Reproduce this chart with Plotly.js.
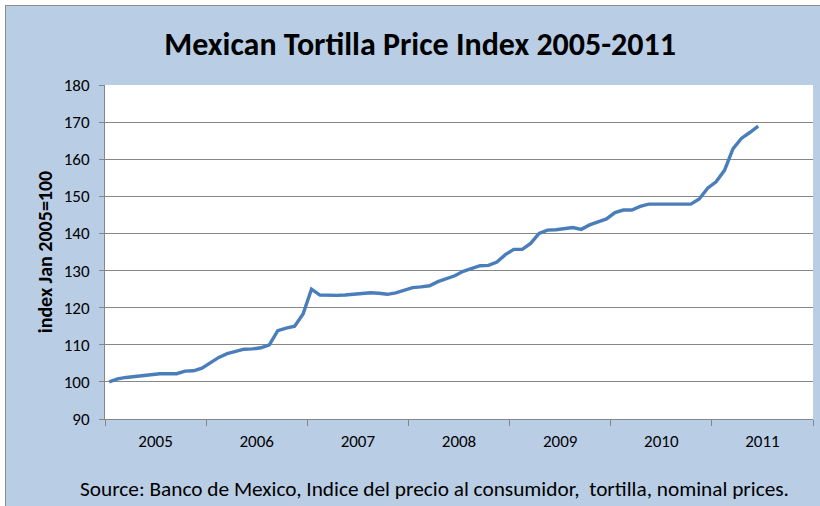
<!DOCTYPE html>
<html>
<head>
<meta charset="utf-8">
<script src="https://cdn.plot.ly/plotly-3.0.1.min.js"></script>
<style>
  html, body { margin: 0; padding: 0; background: #ffffff; overflow: hidden; width: 820px; height: 506px; }
  #chart { position: absolute; left: 5px; top: 5px; width: 820px; height: 506px; box-sizing: border-box; border-left: 1px solid #8c8c8c; border-top: 1px solid #8c8c8c; }
</style>
</head>
<body>
<div id="chart"></div>
<script>
// Monthly tortilla price index, Jan 2005 = 100 (Jan 2005 .. Jun 2011)
const startYear = 2005;
const values2005 = [100.0, 100.8, 101.2, 101.5, 101.8, 101.9, 102.2, 102.2, 102.2, 102.9, 103.0, 103.7];
const values2006 = [105.2, 106.6, 107.6, 108.2, 108.8, 108.9, 109.2, 110.0, 113.8, 114.5, 115.0, 118.3];
const values2007 = [125.0, 123.4, 123.3, 123.3, 123.4, 123.6, 123.9, 124.0, 123.9, 123.6, 124.0, 124.8];
const values2008 = [125.4, 125.6, 125.9, 127.0, 127.8, 128.6, 129.8, 130.6, 131.3, 131.4, 132.3, 134.3];
const values2009 = [135.7, 135.7, 137.3, 140.0, 140.9, 141.0, 141.2, 141.6, 141.1, 142.3, 143.1, 143.9];
const values2010 = [145.6, 146.3, 146.3, 147.3, 147.9, 147.9, 147.9, 147.9, 147.9, 147.9, 149.3, 152.2];
const values2011 = [153.9, 157.0, 162.8, 165.6, 167.2, 168.9];
const yearLabels = ['2005', '2006', '2007', '2008', '2009', '2010', '2011'];

const values = [].concat(values2005, values2006, values2007, values2008, values2009, values2010, values2011);
// position each month in the middle of its slot on a year axis
const xs = values.map((v, i) => startYear + (i + 0.5) / 12);
const yearCenters = yearLabels.map(y => Number(y) + 0.5);

const trace = {
  x: xs, y: values, type: 'scatter', mode: 'lines',
  line: { color: '#4a7ebb', width: 3.4 },
  hoverinfo: 'skip'
};

const font = "Carlito, 'Liberation Sans Narrow', 'Liberation Sans', Arial, sans-serif";

const layout = {
  width: 820, height: 506,
  paper_bgcolor: '#b9cde5',
  plot_bgcolor: '#ffffff',
  margin: { l: 99, r: 13, t: 79, b: 93 },
  showlegend: false,
  font: { family: font, color: '#000000', size: 17 },
  title: {
    text: '<b>Mexican Tortilla Price Index 2005-2011</b>',
    font: { family: font, size: 32, color: '#000000' },
    x: 0.505, xanchor: 'center', y: 0.925, yanchor: 'middle'
  },
  xaxis: {
    range: [2005, 2012],
    tickmode: 'array', tickvals: yearCenters, ticktext: yearLabels,
    ticks: '', ticklen: 0, ticklabelstandoff: 7,
    tickfont: { family: font, size: 17, color: '#000000' },
    showgrid: false, zeroline: false,
    showline: true, linecolor: '#868686', linewidth: 1,
    minor: { tickmode: 'linear', tick0: 2005, dtick: 1, ticks: 'outside', ticklen: 6, tickcolor: '#868686', tickwidth: 1, showgrid: false },
    fixedrange: true
  },
  yaxis: {
    range: [90, 180], tickmode: 'linear', tick0: 90, dtick: 10,
    ticks: 'outside', ticklen: 5, tickcolor: '#868686', tickwidth: 1,
    ticklabelstandoff: 6,
    tickfont: { family: font, size: 17, color: '#000000' },
    showgrid: true, gridcolor: '#868686', gridwidth: 1,
    zeroline: false, showline: true, linecolor: '#868686', linewidth: 1,
    title: { text: '<b>index Jan 2005=100</b>', font: { family: font, size: 20, color: '#000000' }, standoff: 5 },
    fixedrange: true
  },
  annotations: [{
    xref: 'paper', yref: 'paper', x: 0.465, y: -0.21, xanchor: 'center', yanchor: 'middle',
    text: 'Source: Banco de Mexico, Indice del precio al consumidor,  tortilla, nominal prices.',
    showarrow: false, font: { family: font, size: 21.3, color: '#000000' }
  }]
};

Plotly.newPlot('chart', [trace], layout, { displayModeBar: false, staticPlot: true });
</script>
</body>
</html>
